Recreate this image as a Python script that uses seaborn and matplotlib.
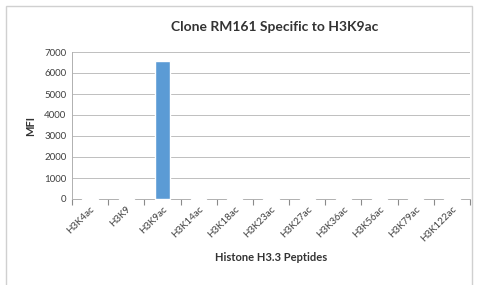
import matplotlib
matplotlib.use("Agg")
import matplotlib.pyplot as plt
import seaborn as sns
import pandas as pd
from matplotlib.patches import Rectangle

peptides = ["H3K4ac", "H3K9", "H3K9ac", "H3K14ac", "H3K18ac", "H3K23ac",
            "H3K27ac", "H3K36ac", "H3K56ac", "H3K79ac", "H3K122ac"]
mfi = [60, 55, 6550, 60, 55, 60, 55, 60, 55, 55, 55]
yticks = [0, 1000, 2000, 3000, 4000, 5000, 6000, 7000]

sns.set_theme(style="ticks")
plt.rcParams['font.family'] = ['Lato', 'DejaVu Sans']

df = pd.DataFrame({"Peptide": peptides, "MFI": mfi})

fig = plt.figure(figsize=(4.78, 2.85), dpi=100)
ax = fig.add_axes([72/478, 1 - 199/285, (470 - 72)/478, (199 - 52)/285])

sns.barplot(data=df, x="Peptide", y="MFI", color="#5B9BD5", width=0.42,
            saturation=1, ax=ax, zorder=3, clip_on=False)

ax.set_ylim(0, 7000)
ax.set_yticks(yticks)
ax.set_yticklabels([str(v) for v in yticks], fontsize=7, color="#404040")
ax.set_xlim(-0.5, len(peptides) - 0.5)
ax.yaxis.grid(True, color="#bfbfbf", linewidth=0.7, zorder=0)
ax.set_axisbelow(True)
for s in ["top", "right"]:
    ax.spines[s].set_visible(False)
ax.spines["left"].set_color("#b0b0b0")
ax.spines["bottom"].set_color("#b0b0b0")
ax.spines["left"].set_linewidth(0.7)
ax.spines["bottom"].set_linewidth(0.7)

ax.set_xticks(range(len(peptides)))
ax.set_xticklabels(peptides, rotation=45, ha="right",
                   rotation_mode="anchor", fontsize=7, color="#404040")
ax.tick_params(axis="x", which="major", length=0, pad=4)
ax.set_xticks([i + 0.5 for i in range(-1, len(peptides))], minor=True)
ax.tick_params(axis="x", which="minor", length=4, width=0.8, color="#8a8a8a",
               bottom=True, direction="out")
ax.tick_params(axis="y", length=0, pad=4)

ax.set_xlabel("Histone H3.3 Peptides", fontsize=8, fontweight="bold",
              color="#333333", labelpad=6)
ax.set_ylabel("MFI", fontsize=8, fontweight="bold", color="#333333", labelpad=6)
fig.text(275/478, 1 - 27/285, "Clone RM161 Specific to H3K9ac", ha="center",
         va="center", fontsize=10, fontweight="bold", color="#333333")

fig.patches.append(Rectangle((6/478, -0.01), (472 - 6)/478, 1 - 6/285 + 0.01,
                             transform=fig.transFigure, fill=False,
                             edgecolor="#d0d0d0", linewidth=1))

fig.savefig("out.png", dpi=100)
